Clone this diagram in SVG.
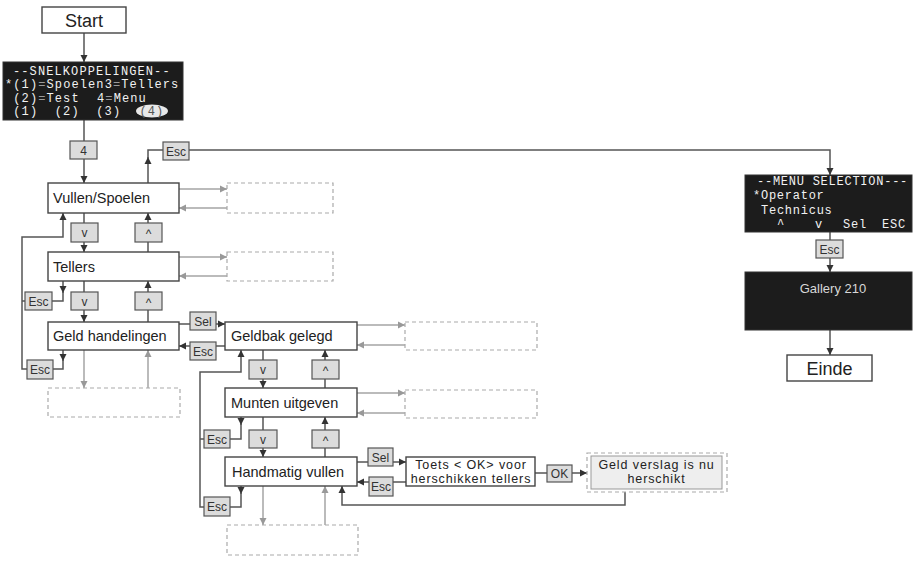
<svg xmlns="http://www.w3.org/2000/svg" width="918" height="562" viewBox="0 0 918 562">
<style>
.box{fill:#fff;stroke:#444;stroke-width:1.4}
.dark{fill:#1c1c1c;stroke:#333;stroke-width:1}
.key{fill:#dcdcdc;stroke:#555;stroke-width:1.2}
.dash{fill:none;stroke:#aaa;stroke-width:1.2;stroke-dasharray:4 3}
.ln{fill:none;stroke:#555;stroke-width:1.5}
.gl{fill:none;stroke:#a5a5a5;stroke-width:1.5}
.t{font-family:"Liberation Sans",Arial,sans-serif;font-size:14.5px;fill:#222}
.tc{font-family:"Liberation Sans",Arial,sans-serif;font-size:12.5px;letter-spacing:0.9px;fill:#222;text-anchor:middle}
.big{font-family:"Liberation Sans",Arial,sans-serif;font-size:18px;fill:#222;text-anchor:middle}
.k{font-family:"Liberation Sans",Arial,sans-serif;font-size:12px;fill:#333;text-anchor:middle}
.m{font-family:"Liberation Mono","DejaVu Sans Mono",monospace;font-size:12px;letter-spacing:1.1px;fill:#f2f2f2}
.m2{font-family:"Liberation Mono","DejaVu Sans Mono",monospace;font-size:12px;letter-spacing:0.75px;fill:#f2f2f2}
.eq{fill:#9a9a9a}
</style>
<defs>
<marker id="ad" markerWidth="8" markerHeight="8" refX="7" refY="4" orient="auto" markerUnits="userSpaceOnUse"><path d="M0,0.5 L7,4 L0,7.5 z" fill="#333"/></marker>
<marker id="ag" markerWidth="8" markerHeight="8" refX="7" refY="4" orient="auto" markerUnits="userSpaceOnUse"><path d="M0,0.5 L7,4 L0,7.5 z" fill="#999"/></marker>
</defs>

<g id="connectors">
<path class="ln" d="M84,33 V62" marker-end="url(#ad)"/>
<path class="ln" d="M84,120 V141"/>
<path class="ln" d="M84,159 V183" marker-end="url(#ad)"/>
<path class="ln" d="M148,183 V157" marker-end="url(#ad)"/>
<path class="ln" d="M148,158 V150 H163"/>
<path class="ln" d="M189,150 H830 V175" marker-end="url(#ad)"/>
<path class="ln" d="M830,232 V240"/>
<path class="ln" d="M830,258 V272" marker-end="url(#ad)"/>
<path class="ln" d="M830,330 V355" marker-end="url(#ad)"/>
<path class="gl" d="M179,189 H227" marker-end="url(#ag)"/>
<path class="gl" d="M227,208 H179" marker-end="url(#ag)"/>
<path class="gl" d="M179,257 H227" marker-end="url(#ag)"/>
<path class="gl" d="M227,276 H179" marker-end="url(#ag)"/>
<path class="ln" d="M84,213 V223"/>
<path class="ln" d="M84,242 V252" marker-end="url(#ad)"/>
<path class="ln" d="M148,252 V242"/>
<path class="ln" d="M148,223 V213" marker-end="url(#ad)"/>
<path class="ln" d="M84,281 V292"/>
<path class="ln" d="M84,310 V322" marker-end="url(#ad)"/>
<path class="ln" d="M148,322 V310"/>
<path class="ln" d="M148,292 V281" marker-end="url(#ad)"/>
<path class="ln" d="M63,281 V293" marker-end="url(#ad)"/>
<path class="ln" d="M63,292 V301 H52"/>
<path class="ln" d="M25,301 H22"/>
<path class="ln" d="M63,350 V361" marker-end="url(#ad)"/>
<path class="ln" d="M63,360 V369 H53"/>
<path class="ln" d="M27,369 H22 V237 H63 V213" marker-end="url(#ad)"/>
<path class="gl" d="M84,350 V388" marker-end="url(#ag)"/>
<path class="gl" d="M148,388 V350" marker-end="url(#ag)"/>
<path class="ln" d="M179,324 H190"/>
<path class="ln" d="M216,324 H225" marker-end="url(#ad)"/>
<path class="ln" d="M225,346 H216"/>
<path class="ln" d="M190,346 H179" marker-end="url(#ad)"/>
<path class="gl" d="M357,325 H405" marker-end="url(#ag)"/>
<path class="gl" d="M405,345 H357" marker-end="url(#ag)"/>
<path class="gl" d="M357,393 H405" marker-end="url(#ag)"/>
<path class="gl" d="M405,413 H357" marker-end="url(#ag)"/>
<path class="ln" d="M263,350 V360"/>
<path class="ln" d="M263,379 V388" marker-end="url(#ad)"/>
<path class="ln" d="M325,388 V379"/>
<path class="ln" d="M325,360 V350" marker-end="url(#ad)"/>
<path class="ln" d="M263,417 V430"/>
<path class="ln" d="M263,448 V457" marker-end="url(#ad)"/>
<path class="ln" d="M325,457 V448"/>
<path class="ln" d="M325,430 V417" marker-end="url(#ad)"/>
<path class="ln" d="M241,417 V425" marker-end="url(#ad)"/>
<path class="ln" d="M241,424 V439 H230"/>
<path class="ln" d="M204,439 H200"/>
<path class="ln" d="M241,486 V494" marker-end="url(#ad)"/>
<path class="ln" d="M241,493 V507 H230"/>
<path class="ln" d="M204,507 H200 V372 H241 V350" marker-end="url(#ad)"/>
<path class="gl" d="M263,486 V525" marker-end="url(#ag)"/>
<path class="gl" d="M325,525 V486" marker-end="url(#ag)"/>
<path class="ln" d="M357,462 H368"/>
<path class="ln" d="M393,462 H406" marker-end="url(#ad)"/>
<path class="ln" d="M406,482 H393"/>
<path class="ln" d="M369,482 H357" marker-end="url(#ad)"/>
<path class="ln" d="M535,473 H547"/>
<path class="ln" d="M572,473 H587" marker-end="url(#ad)"/>
<path class="ln" d="M625,492 V505 H342 V486" marker-end="url(#ad)"/>
</g>

<g id="start"><rect class="box" x="42" y="7" width="84" height="26"/><text class="big" x="84" y="27">Start</text></g>

<g id="snelkoppelingen">
<rect class="dark" x="3" y="62" width="180" height="58"/>
<text class="m" x="13" y="75">--SNELKOPPELINGEN--</text>
<text class="m" x="5" y="88">*(1)<tspan class="eq">=</tspan>Spoelen3<tspan class="eq">=</tspan>Tellers</text>
<text class="m" x="13.3" y="102">(2)<tspan class="eq">=</tspan>Test</text>
<text class="m" x="97" y="102">4<tspan class="eq">=</tspan>Menu</text>
<text class="m" x="13.3" y="115">(1)</text>
<text class="m" x="54.8" y="115">(2)</text>
<text class="m" x="96.3" y="115">(3)</text>
<ellipse cx="152" cy="111" rx="16" ry="6.5" fill="#e8e8e8"/>
<text class="m" x="139.5" y="115" style="fill:#555">(4)</text>
</g>

<g id="key4"><rect class="key" x="70" y="141" width="27" height="18"/><text class="k" x="83.5" y="155">4</text></g>
<g id="keyEscTop"><rect class="key" x="163" y="142" width="26" height="18"/><text class="k" x="176" y="156">Esc</text></g>

<g id="vullen"><rect class="box" x="48" y="183" width="131" height="30"/><text class="t" x="53" y="203">Vullen/Spoelen</text></g>
<g id="dashVullen"><rect class="dash" x="227" y="183" width="106" height="30"/></g>
<g id="keyV1"><rect class="key" x="71" y="223" width="27" height="19"/><text class="k" x="84.5" y="237">v</text></g>
<g id="keyU1"><rect class="key" x="135" y="223" width="27" height="19"/><text class="k" x="148.5" y="238">^</text></g>

<g id="tellers"><rect class="box" x="48" y="252" width="131" height="29"/><text class="t" x="53" y="272">Tellers</text></g>
<g id="dashTellers"><rect class="dash" x="227" y="252" width="106" height="29"/></g>
<g id="keyEscA1"><rect class="key" x="25" y="292" width="27" height="18"/><text class="k" x="38.5" y="306">Esc</text></g>
<g id="keyV2"><rect class="key" x="71" y="292" width="27" height="18"/><text class="k" x="84.5" y="306">v</text></g>
<g id="keyU2"><rect class="key" x="135" y="292" width="27" height="18"/><text class="k" x="148.5" y="307">^</text></g>

<g id="geldhandelingen"><rect class="box" x="48" y="322" width="131" height="28"/><text class="t" x="53" y="341">Geld handelingen</text></g>
<g id="keyEscA2"><rect class="key" x="27" y="360" width="26" height="19"/><text class="k" x="40" y="374">Esc</text></g>
<g id="dashGeld"><rect class="dash" x="48" y="388" width="132" height="29"/></g>

<g id="keySel1"><rect class="key" x="190" y="312" width="26" height="18"/><text class="k" x="203" y="326">Sel</text></g>
<g id="keyEsc1"><rect class="key" x="190" y="342" width="26" height="18"/><text class="k" x="203" y="356">Esc</text></g>

<g id="geldbak"><rect class="box" x="225" y="322" width="132" height="28"/><text class="t" x="231" y="341">Geldbak gelegd</text></g>
<g id="dashGeldbak"><rect class="dash" x="405" y="322" width="132" height="28"/></g>
<g id="keyV3"><rect class="key" x="249" y="360" width="28" height="19"/><text class="k" x="263" y="374">v</text></g>
<g id="keyU3"><rect class="key" x="312" y="360" width="27" height="19"/><text class="k" x="325.5" y="375">^</text></g>

<g id="munten"><rect class="box" x="225" y="388" width="132" height="29"/><text class="t" x="231" y="408">Munten uitgeven</text></g>
<g id="dashMunten"><rect class="dash" x="405" y="390" width="132" height="28"/></g>
<g id="keyEscB1"><rect class="key" x="204" y="430" width="26" height="18"/><text class="k" x="217" y="444">Esc</text></g>
<g id="keyV4"><rect class="key" x="249" y="430" width="28" height="18"/><text class="k" x="263" y="444">v</text></g>
<g id="keyU4"><rect class="key" x="312" y="430" width="27" height="18"/><text class="k" x="325.5" y="445">^</text></g>

<g id="handmatig"><rect class="box" x="225" y="457" width="132" height="29"/><text class="t" x="232" y="477">Handmatig vullen</text></g>
<g id="keyEscB2"><rect class="key" x="204" y="497" width="26" height="19"/><text class="k" x="217" y="511">Esc</text></g>
<g id="dashHandmatig"><rect class="dash" x="227" y="525" width="131" height="30"/></g>

<g id="keySel2"><rect class="key" x="368" y="448" width="25" height="18"/><text class="k" x="380.5" y="462">Sel</text></g>
<g id="keyEsc2"><rect class="key" x="369" y="477" width="24" height="19"/><text class="k" x="381" y="491">Esc</text></g>
<g id="toets"><rect class="box" x="406" y="457" width="129" height="29"/><text class="tc" x="471" y="468.5">Toets &lt; OK&gt; voor</text><text class="tc" x="471" y="483">herschikken tellers</text></g>
<g id="keyOK"><rect class="key" x="547" y="465" width="25" height="17"/><text class="k" x="559.5" y="478">OK</text></g>
<g id="geldverslag"><rect class="dash" x="587" y="453" width="140" height="39"/><rect x="591" y="456" width="131" height="33" fill="#eeeeee" stroke="#999" stroke-width="1"/><text class="tc" x="656.5" y="468.5">Geld verslag is nu</text><text class="tc" x="656.5" y="483">herschikt</text></g>

<g id="menuselection">
<rect class="dark" x="745" y="175" width="167" height="57"/>
<text class="m2" x="757" y="185">--MENU SELECTION---</text>
<text class="m2" x="753" y="199">*Operator</text>
<text class="m2" x="761" y="214">Technicus</text>
<text class="m2" x="777" y="228">^</text>
<text class="m2" x="815" y="228">v</text>
<text class="m2" x="843" y="228">Sel</text>
<text class="m2" x="882" y="228">ESC</text>
</g>
<g id="keyEscR"><rect class="key" x="816" y="240" width="27" height="18"/><text class="k" x="829.5" y="254">Esc</text></g>
<g id="gallery"><rect class="dark" x="745" y="272" width="167" height="58"/><text x="833" y="293" style="font-family:'Liberation Sans',Arial,sans-serif;font-size:13px;fill:#d8d8d8;text-anchor:middle">Gallery 210</text></g>
<g id="einde"><rect class="box" x="787" y="355" width="85" height="26"/><text class="big" x="829.5" y="375">Einde</text></g>
</svg>
